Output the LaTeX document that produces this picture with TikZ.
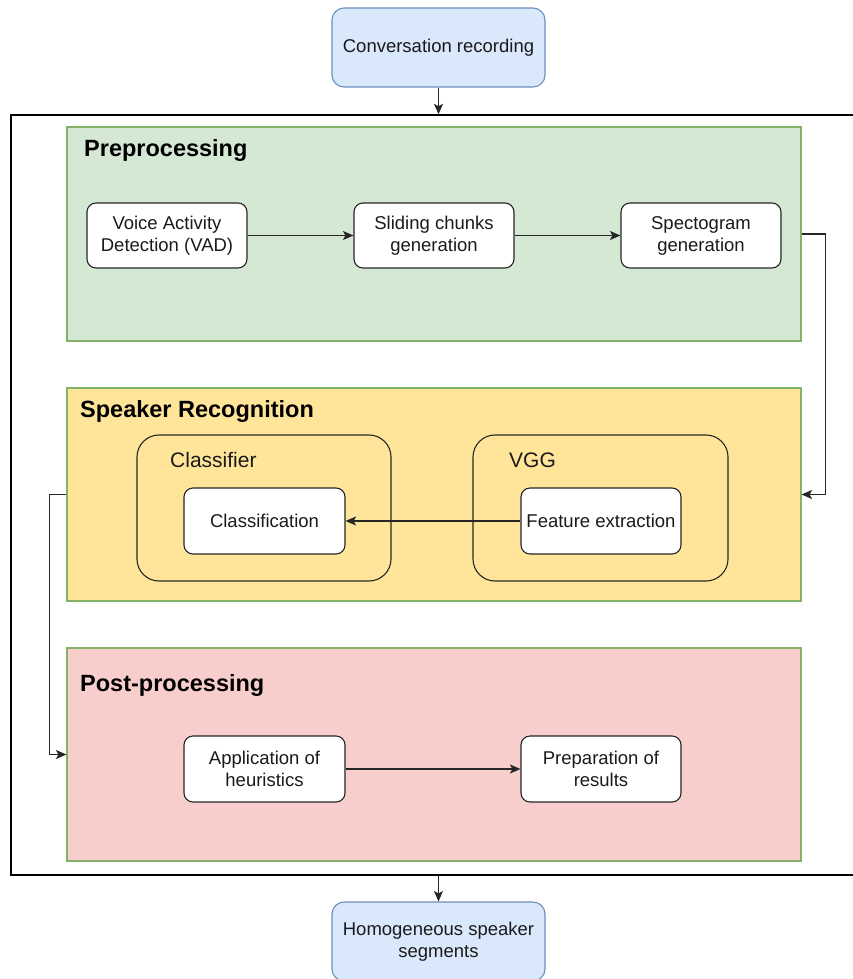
\documentclass[tikz,border=0pt]{standalone}
\usepackage{fontspec}
\setmainfont{Liberation Sans}
\usetikzlibrary{arrows.meta}
\definecolor{ioFill}{HTML}{DAE8FC}
\definecolor{ioDraw}{HTML}{6C8EBF}
\definecolor{grFill}{HTML}{D5E8D4}
\definecolor{grDraw}{HTML}{82B366}
\definecolor{yeFill}{HTML}{FFE599}
\definecolor{rdFill}{HTML}{F8CECC}
\definecolor{txt}{HTML}{1A1A1A}
\tikzset{
  basefont/.style={font=\fontsize{18.5}{22}\selectfont, text=txt},
  stepbox/.style={basefont, draw=black!85, fill=white, rounded corners=9pt, line width=1.1pt,
    minimum width=160pt, minimum height=65pt, align=center, inner sep=0pt},
  iobox/.style={basefont, draw=ioDraw, fill=ioFill, rounded corners=12pt, line width=1.1pt,
    minimum width=213pt, minimum height=79pt, align=center, inner sep=0pt},
  panel/.style={draw=grDraw, line width=1.1pt, minimum width=734pt, minimum height=213pt, inner sep=0pt},
  container/.style={draw=black!85, rounded corners=22pt, line width=1.1pt, minimum width=254pt, minimum height=146pt, inner sep=0pt},
  paneltitle/.style={font=\fontsize{23.5}{28}\bfseries\selectfont, anchor=base west, inner sep=0pt},
  contlabel/.style={font=\fontsize{21}{25}\selectfont, text=txt, anchor=base west, inner sep=0pt},
  arr/.style={-{Stealth[length=10.5pt,width=9pt,inset=2.5pt]}, line width=1.2pt, draw=black!85},
}
\begin{document}
\begin{tikzpicture}[x=1pt,y=-1pt]
\clip (0,0) rectangle (853,979);
\fill[white] (0,0) rectangle (853,979);
% outer frame
\node[draw=black, line width=1.4pt, minimum width=859pt, minimum height=760pt, inner sep=0pt] (outer) at (440.5,495) {};
% panels
\node[panel, fill=grFill, minimum height=214pt] (pre) at (434,234) {};
\node[panel, fill=yeFill] (sr) at (434,494.5) {};
\node[panel, fill=rdFill] (post) at (434,754.5) {};
\node[paneltitle] (pretitle) at (84,157) {Preprocessing};
\node[paneltitle] (srtitle) at (80,417) {Speaker Recognition};
\node[paneltitle] (posttitle) at (80,691) {Post-processing};
% io boxes
\node[iobox] (conv) at (438.5,47.5) {Conversation recording};
\node[iobox] (homog) at (438.5,941.5) {Homogeneous speaker\\segments};
% preprocessing steps
\node[stepbox] (vad) at (167,235.5) {Voice Activity\\Detection (VAD)};
\node[stepbox] (slide) at (434,235.5) {Sliding chunks\\generation};
\node[stepbox] (spec) at (701,235.5) {Spectogram\\generation};
% speaker recognition containers
\node[container] (clsc) at (264,508) {};
\node[container, minimum width=255pt] (vggc) at (600.5,508) {};
\node[contlabel] (clslabel) at (170,467.5) {Classifier};
\node[contlabel] (vgglabel) at (509,467.5) {VGG};
\node[stepbox, minimum width=161pt, minimum height=66pt] (classif) at (264.5,521) {Classification};
\node[stepbox, minimum height=66pt] (feat) at (601,521) {Feature extraction};
% post-processing steps
\node[stepbox, minimum width=161pt, minimum height=66pt] (heur) at (264.5,769) {Application of\\heuristics};
\node[stepbox, minimum height=66pt] (prep) at (601,769) {Preparation of\\results};
% connectors
\draw[arr] (conv.south) -- (conv.south |- outer.north);
\draw[arr] (vad.east) -- (slide.west);
\draw[arr] (slide.east) -- (spec.west);
\draw[arr] (pre.east) -- ++(24,0) |- (sr.east);
\draw[arr] (feat.west) -- (classif.east);
\draw[arr] (sr.west) -- ++(-17,0) |- (post.west);
\draw[arr] (heur.east) -- (prep.west);
\draw[arr] (homog.north |- outer.south) -- (homog.north);
\end{tikzpicture}
\end{document}
